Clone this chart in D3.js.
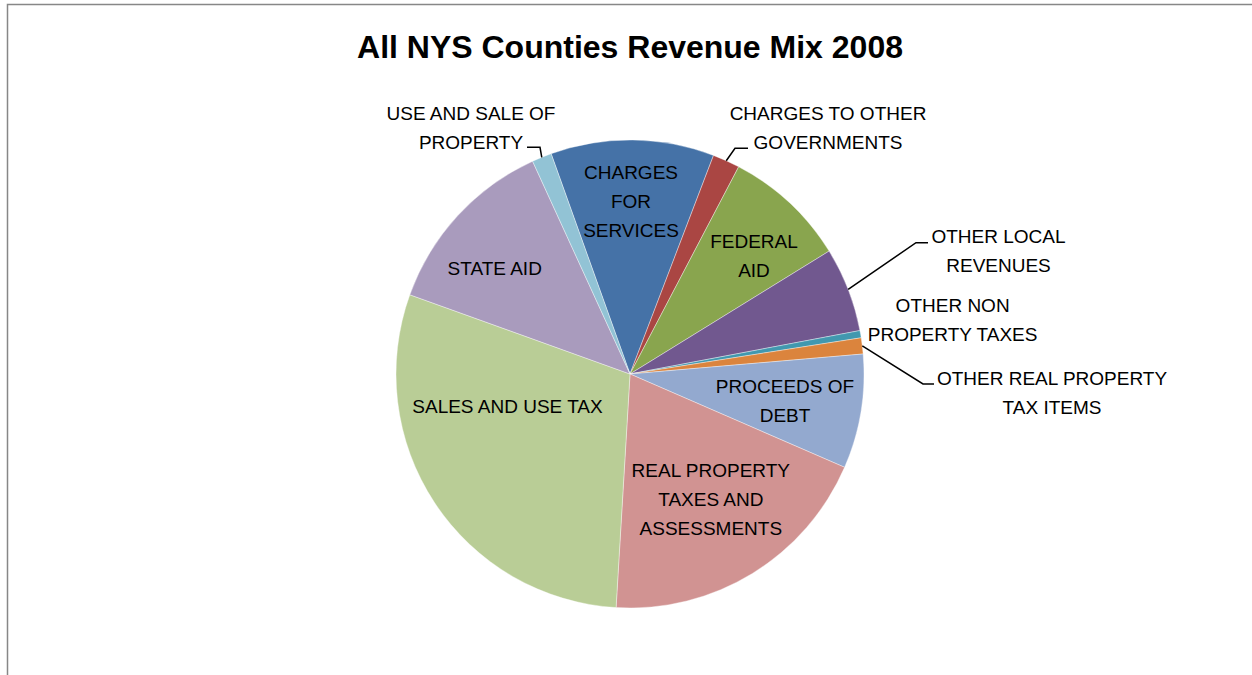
<!DOCTYPE html>
<html>
<head>
<meta charset="utf-8">
<script src="https://cdn.jsdelivr.net/npm/d3@7"></script>
<style>
  body { margin: 0; background: #fff; }
  text { font-family: "Liberation Sans", Arial, sans-serif; fill: #000; }
</style>
</head>
<body>
<script>
/* ---- data (shares of total revenue, %) ---- */
var categories = ["CHARGES FOR SERVICES", "CHARGES TO OTHER GOVERNMENTS", "FEDERAL AID",
  "OTHER LOCAL REVENUES", "OTHER NON PROPERTY TAXES", "OTHER REAL PROPERTY TAX ITEMS",
  "PROCEEDS OF DEBT", "REAL PROPERTY TAXES AND ASSESSMENTS", "SALES AND USE TAX",
  "STATE AID", "USE AND SALE OF PROPERTY"];
var shares = [11.28, 1.88, 8.51, 5.83, 0.50, 1.11, 7.89, 19.42, 29.55, 12.67, 1.36];
var labelLines = [["CHARGES", "FOR", "SERVICES"], ["CHARGES TO OTHER", "GOVERNMENTS"],
  ["FEDERAL", "AID"], ["OTHER LOCAL", "REVENUES"], ["OTHER NON", "PROPERTY TAXES"],
  ["OTHER REAL PROPERTY", "TAX ITEMS"], ["PROCEEDS OF", "DEBT"],
  ["REAL PROPERTY", "TAXES AND", "ASSESSMENTS"], ["SALES AND USE TAX"], ["STATE AID"],
  ["USE AND SALE OF", "PROPERTY"]];

var colors = ["#4572A7", "#AA4643", "#89A54E", "#71588F", "#4198AF", "#DB843D",
  "#93A9CF", "#D19392", "#B9CD96", "#A99BBD", "#92C3D5"];

/* label placement relative to pie centre: [dx, first baseline dy, leader elbow dx, elbow dy, leader end dx] */
var labelPos = [
  [1, -195], [198, -254.5, 105, -225.7, 118], [124, -125.7], [368.5, -131.3, 286, -131.3, 298],
  [322.6, -62.3], [422, 11, 293, 10, 304], [155, 19.3], [80.8, 102.7], [-122.5, 38.7],
  [-135.3, -99], [-159, -254.5, -90, -226.7, -103]
];

var W = 1252, H = 675;
var cx = 630, cy = 374, r = 234;
var lineH = 29;
var start = -19.7 * Math.PI / 180;

var svg = d3.select("body").append("svg")
  .attr("width", W)
  .attr("height", H);

// chart area border (left and top edges visible)
svg.append("rect")
  .attr("x", 7.5).attr("y", 4.5)
  .attr("width", W + 20).attr("height", H + 20)
  .attr("fill", "none")
  .attr("stroke", "#878787")
  .attr("stroke-width", 1.5);

svg.append("text")
  .attr("x", cx).attr("y", 58)
  .attr("text-anchor", "middle")
  .attr("font-size", 32)
  .attr("font-weight", "bold")
  .text("All NYS Counties Revenue Mix 2008");

var pie = d3.pie().sort(null).value(function(d) { return d; })
  .startAngle(start).endAngle(start + 2 * Math.PI);
var arcs = pie(shares);
var arc = d3.arc().innerRadius(0).outerRadius(r);

var g = svg.append("g").attr("transform", "translate(" + cx + "," + cy + ")");

g.selectAll("path.slice")
  .data(arcs)
  .enter()
  .append("path")
  .attr("class", "slice")
  .attr("d", arc)
  .attr("fill", function(d, i) { return colors[i]; })
  .attr("stroke", "rgba(255,255,255,0.5)")
  .attr("stroke-width", 0.75);

// leader lines for the outside labels
arcs.forEach(function(d, i) {
  var p = labelPos[i];
  if (p.length < 5) return;
  var mid = (d.startAngle + d.endAngle) / 2;
  var ex = r * Math.sin(mid), ey = -r * Math.cos(mid);
  g.append("path")
    .attr("d", "M" + ex + "," + ey + "L" + p[2] + "," + p[3] + "L" + p[4] + "," + p[3])
    .attr("fill", "none")
    .attr("stroke", "#000")
    .attr("stroke-width", 1.5);
});

var labels = g.selectAll("text.lbl")
  .data(arcs)
  .enter()
  .append("text")
  .attr("class", "lbl")
  .attr("text-anchor", "middle")
  .attr("font-size", 19)
  .attr("transform", function(d, i) {
    return "translate(" + labelPos[i][0] + "," + labelPos[i][1] + ")";
  });

labels.selectAll("tspan")
  .data(function(d, i) { return labelLines[i]; })
  .enter()
  .append("tspan")
  .attr("x", 0)
  .attr("y", function(d, j) { return j * lineH; })
  .text(function(d) { return d; });
</script>
</body>
</html>
